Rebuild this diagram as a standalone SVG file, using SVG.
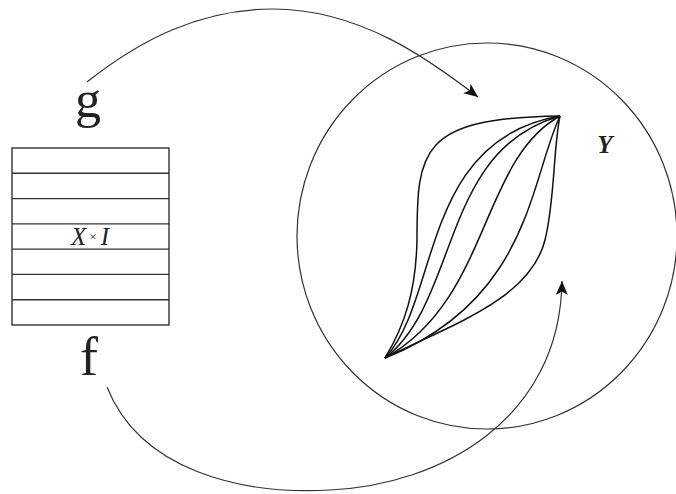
<svg xmlns="http://www.w3.org/2000/svg" width="676" height="494" viewBox="0 0 676 494">
<defs>
<style>
.thin{fill:none;stroke:#333;stroke-width:1.2}
.leaf{fill:none;stroke:#111;stroke-width:1.5}
.grid{fill:none;stroke:#333;stroke-width:1.4}
.lbl{font-family:"Liberation Serif","Times New Roman",serif;fill:#222}
</style>
<marker id="ah" markerUnits="userSpaceOnUse" viewBox="-15 -7 16 14" refX="0" refY="0" markerWidth="16" markerHeight="14" orient="auto">
<path d="M0,0 L-14,-6 L-10.5,0 L-14,6 Z" fill="#111"/>
</marker>
</defs>
<rect width="676" height="494" fill="#fff"/>
<g id="space-Y">
<ellipse class="thin" cx="487" cy="236" rx="190" ry="193"/>
<text class="lbl" x="605" y="153" font-size="25" font-weight="bold" font-style="italic" text-anchor="middle" fill="#111">Y</text>
</g>
<g id="bundle">
<path class="leaf" d="M385,358 C405,325 416,290 417,240 C417,150 420,118 560,116"/>
<path class="leaf" d="M385,358 C440,300 420,140 560,116"/>
<path class="leaf" d="M385,358 C460,300 440,150 560,116"/>
<path class="leaf" d="M385,358 C490,300 480,160 560,116"/>
<path class="leaf" d="M385,358 C530,300 530,180 560,116"/>
<path class="leaf" d="M385,358 C450,325 530,300 545,240 C555,200 553,150 560,116"/>
</g>
<g id="table-XxI">
<rect class="grid" x="12" y="148" width="157" height="177"/>
<line class="grid" x1="12" y1="173.3" x2="169" y2="173.3"/>
<line class="grid" x1="12" y1="198.6" x2="169" y2="198.6"/>
<line class="grid" x1="12" y1="223.9" x2="169" y2="223.9"/>
<line class="grid" x1="12" y1="249.1" x2="169" y2="249.1"/>
<line class="grid" x1="12" y1="274.4" x2="169" y2="274.4"/>
<line class="grid" x1="12" y1="299.7" x2="169" y2="299.7"/>
<text class="lbl" x="90" y="244.5" font-size="25" font-style="italic" text-anchor="middle" fill="#555">X<tspan font-size="13" font-style="normal" dx="3" dy="-4">×</tspan><tspan dx="4" dy="4">I</tspan></text>
</g>
<g id="label-g">
<text class="lbl" x="88" y="117" font-size="52" text-anchor="middle">g</text>
</g>
<g id="label-f">
<text class="lbl" x="89" y="375" font-size="54" text-anchor="middle">f</text>
</g>
<g id="connectors">
<path class="thin" d="M87,82 C140,40 200,9 273,9 C360,9 430,60 478,97" marker-end="url(#ah)"/>
<path class="thin" d="M107,387 C140,470 240,495 330,490 C440,485 560,420 562,281" marker-end="url(#ah)"/>
</g>
</svg>
